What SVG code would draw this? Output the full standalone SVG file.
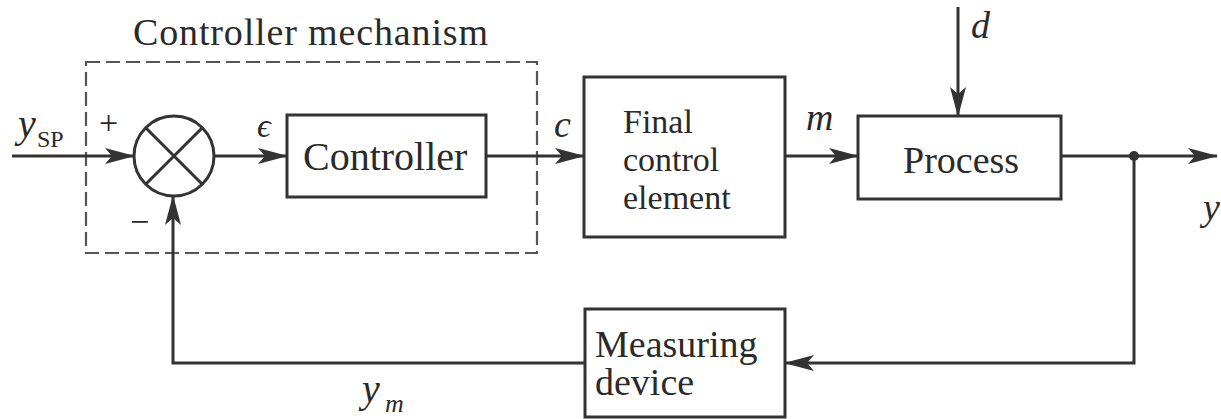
<svg xmlns="http://www.w3.org/2000/svg" width="1221" height="419" viewBox="0 0 1221 419">
<style>
.box{fill:none;stroke:#333;stroke-width:3}
.ln{fill:none;stroke:#333;stroke-width:3}
text{font-family:"Liberation Serif","DejaVu Serif","Noto Serif","Times New Roman",serif;fill:#2a2a2a}
.i{font-style:italic}
.s40{font-size:40px}
.s38{font-size:38px}
.s34{font-size:34px}
.s26{font-size:26px}
.s24{font-size:24px}
</style>
<defs>
<marker id="ar" viewBox="0 0 30 20" refX="29" refY="10" markerWidth="30" markerHeight="20" markerUnits="userSpaceOnUse" orient="auto">
<path d="M0,2 L30,10 L0,18 L7,10 Z" fill="#333"/>
</marker>
</defs>
<rect width="1221" height="419" fill="#fff"/>
<g id="mechanism">
<rect x="86" y="62" width="451" height="191" fill="none" stroke="#555" stroke-width="2.2" stroke-dasharray="14,6"/>
<text class="s38" x="133" y="45" textLength="355">Controller mechanism</text>
</g>
<g id="connectors">
<path class="ln" d="M12,156 H134" marker-end="url(#ar)"/>
<path class="ln" d="M214,156 H287" marker-end="url(#ar)"/>
<path class="ln" d="M486,156 H584" marker-end="url(#ar)"/>
<path class="ln" d="M785,156 H858" marker-end="url(#ar)"/>
<path class="ln" d="M958,7 V116" marker-end="url(#ar)"/>
<path class="ln" d="M1061,156 H1217" marker-end="url(#ar)"/>
<path class="ln" d="M1134,156 V363 H785" marker-end="url(#ar)"/>
<path class="ln" d="M585,363 H173 V196" marker-end="url(#ar)"/>
<circle cx="1134" cy="156" r="5" fill="#333"/>
</g>
<g id="sum">
<circle cx="174" cy="156" r="40" class="box"/>
<path class="ln" d="M145.7,127.7 L202.3,184.3 M202.3,127.7 L145.7,184.3"/>
<text class="s34" x="99" y="134">+</text>
<text class="s34" x="130" y="233">−</text>
</g>
<g id="controller">
<rect class="box" x="287" y="115" width="199" height="82"/>
<text class="s40" x="303" y="170">Controller</text>
</g>
<g id="final-control-element">
<rect class="box" x="584" y="77" width="201" height="160"/>
<text class="s34" x="623" y="133">Final</text>
<text class="s34" x="623" y="171">control</text>
<text class="s34" x="623" y="209">element</text>
</g>
<g id="process">
<rect class="box" x="858" y="116" width="203" height="83"/>
<text class="s38" x="903" y="173">Process</text>
</g>
<g id="measuring-device">
<rect class="box" x="585" y="309" width="200" height="108"/>
<text class="s38" x="595" y="357">Measuring</text>
<text class="s38" x="595" y="395">device</text>
</g>
<g id="labels">
<text class="i s40" x="18" y="137">y</text>
<text class="s24" x="37" y="147">SP</text>
<text class="i s34" x="257" y="137">ϵ</text>
<text class="i s38" x="554" y="137">c</text>
<text class="i s38" x="806" y="130">m</text>
<text class="i s38" x="971" y="38">d</text>
<text class="i s38" x="1203" y="220">y</text>
<text class="i s40" x="362" y="402">y</text>
<text class="i s26" x="385" y="412">m</text>
</g>
</svg>
